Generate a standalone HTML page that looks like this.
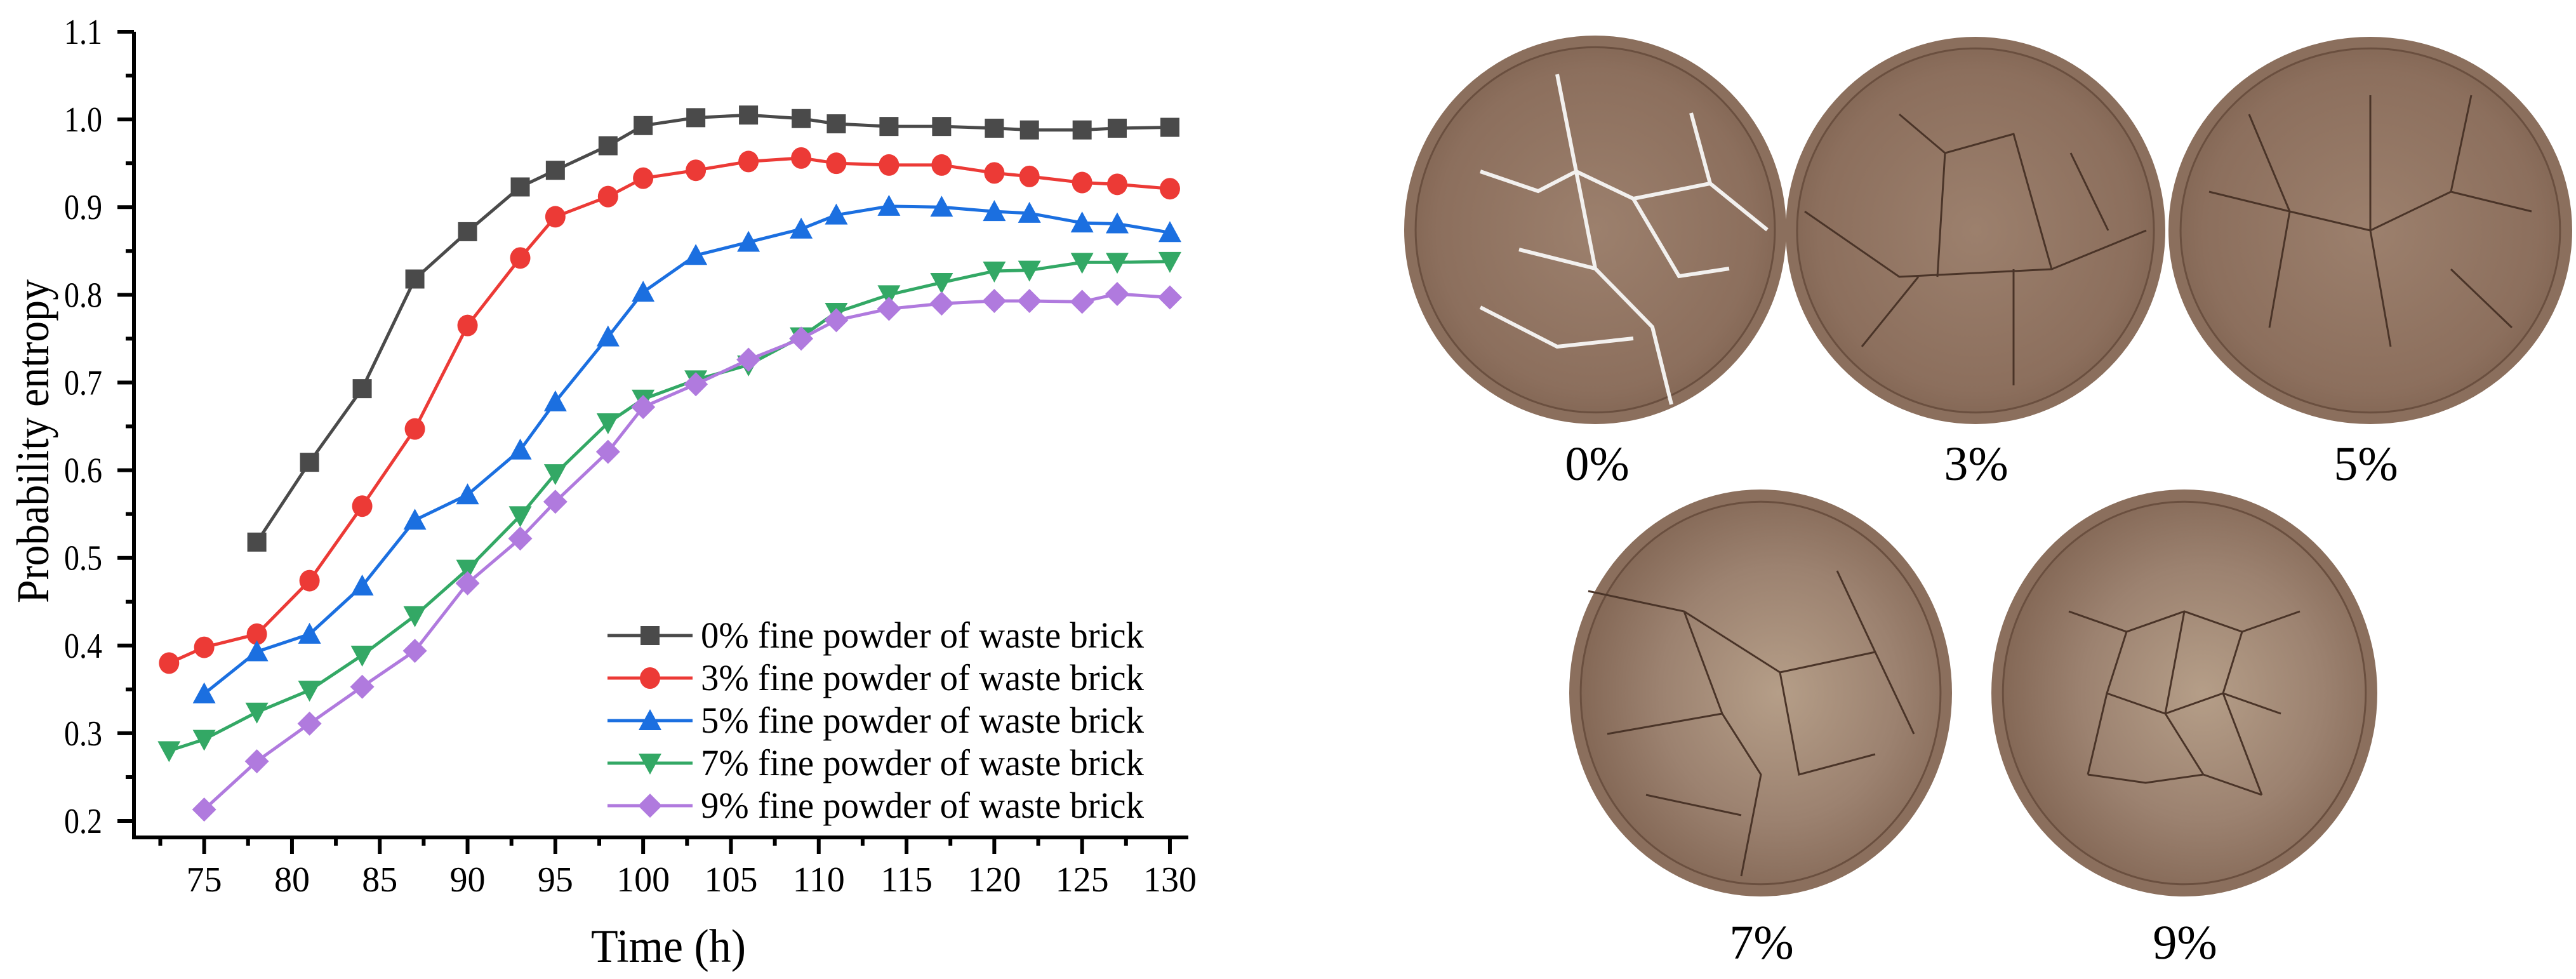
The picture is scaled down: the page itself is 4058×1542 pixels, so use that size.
<!DOCTYPE html>
<html><head><meta charset="utf-8">
<style>
html,body{margin:0;padding:0;background:#fff;}
svg{display:block;}
text{font-family:"Liberation Serif","Times New Roman",serif;fill:#000;}
</style></head>
<body>
<svg id="fig" xmlns="http://www.w3.org/2000/svg" width="4058" height="1542" viewBox="0 0 4058 1542">
<defs>
  <radialGradient id="bowlA" cx="50%" cy="50%" r="55%">
    <stop offset="0" stop-color="#9c806d"/>
    <stop offset="0.8" stop-color="#8c6f5d"/>
    <stop offset="1" stop-color="#806452"/>
  </radialGradient>
  <radialGradient id="bowlB" cx="55%" cy="50%" r="55%">
    <stop offset="0" stop-color="#b59e88"/>
    <stop offset="0.6" stop-color="#9c8270"/>
    <stop offset="1" stop-color="#846856"/>
  </radialGradient>
</defs>
<g id="chart"></g>
<g id="photos"></g>
</svg>
<script>
const xs0 = [78,81,84,87,90,93,95,98,100,103,106,109,111,114,117,120,122,125,127,130];
const ys0 = [0.518,0.609,0.693,0.818,0.872,0.923,0.942,0.970,0.993,1.002,1.005,1.001,0.995,0.992,0.992,0.990,0.988,0.988,0.990,0.991];
const xs3 = [73,75,78,81,84,87,90,93,95,98,100,103,106,109,111,114,117,120,122,125,127,130];
const ys3 = [0.380,0.398,0.413,0.474,0.559,0.647,0.765,0.842,0.889,0.912,0.933,0.942,0.952,0.956,0.950,0.948,0.948,0.939,0.935,0.928,0.926,0.921];
const xs5 = [75,78,81,84,87,90,93,95,98,100,103,106,109,111,114,117,120,122,125,127,130];
const ys5 = [0.345,0.393,0.413,0.468,0.543,0.572,0.623,0.678,0.752,0.803,0.845,0.860,0.875,0.891,0.901,0.900,0.895,0.893,0.882,0.881,0.871];
const xs7 = [73,75,78,81,84,87,90,93,95,98,100,103,106,109,111,114,117,120,122,125,127,130];
const ys7 = [0.280,0.293,0.324,0.349,0.389,0.434,0.487,0.548,0.596,0.654,0.681,0.703,0.720,0.752,0.780,0.800,0.814,0.827,0.828,0.837,0.837,0.838];
const xs9 = [75,78,81,84,87,90,93,95,98,100,103,106,109,111,114,117,120,122,125,127,130];
const ys9 = [0.213,0.268,0.311,0.353,0.394,0.471,0.522,0.564,0.621,0.672,0.698,0.726,0.750,0.771,0.784,0.790,0.793,0.793,0.792,0.801,0.797];
const seriesLabels = ["0% fine powder of waste brick","3% fine powder of waste brick","5% fine powder of waste brick","7% fine powder of waste brick","9% fine powder of waste brick"];
const xTickLabels = [75,80,85,90,95,100,105,110,115,120,125,130];
const yTickLabels = ["0.2","0.3","0.4","0.5","0.6","0.7","0.8","0.9","1.0","1.1"];
const photoLabels = ["0%","3%","5%","7%","9%"];

const NS="http://www.w3.org/2000/svg";
function mk(tag, attrs, parent){const e=document.createElementNS(NS,tag);for(const k in attrs)e.setAttribute(k,attrs[k]);parent.appendChild(e);return e;}
const chart=document.getElementById('chart');
const X0=211, X1=1872, Y0=1319, Y1=50;
const xmin=71, xmax=131.05, ymin=0.1812, ymax=1.1;
function sx(v){return X0+(v-xmin)/(xmax-xmin)*(X1-X0);}
function sy(v){return Y0-(v-ymin)/(ymax-ymin)*(Y0-Y1);}

let ax=mk('path',{d:`M${X0} ${Y1} L${X0} ${Y0} L${X1} ${Y0}`,fill:'none',stroke:'#000','stroke-width':6},chart);


for(let i=0;i<yTickLabels.length;i++){
  const v=parseFloat(yTickLabels[i]);const y=sy(v);
  const t=mk('line',{x1:X0-26,x2:X0,y1:y,y2:y,stroke:'#000','stroke-width':6},chart);
  
  
  const l=mk('text',{x:161,y:y+19,'text-anchor':'end','font-size':56,textLength:60,lengthAdjust:'spacingAndGlyphs'},chart);
  l.textContent=yTickLabels[i];
  
  
  if(i<yTickLabels.length-1){
    const ym=sy(v+0.05);
    const m=mk('line',{x1:X0-13,x2:X0,y1:ym,y2:ym,stroke:'#000','stroke-width':6},chart);
    
    
  }
}
for(let i=0;i<xTickLabels.length;i++){
  const v=xTickLabels[i];const x=sx(v);
  const t=mk('line',{x1:x,x2:x,y1:Y0,y2:Y0+26,stroke:'#000','stroke-width':6},chart);
  
  
  const l=mk('text',{x:x,y:1404,'text-anchor':'middle','font-size':56},chart);
  l.textContent=v;
  
  
  const xm=sx(v-2.5);
  const m=mk('line',{x1:xm,x2:xm,y1:Y0,y2:Y0+13,stroke:'#000','stroke-width':6},chart);
  
  
}
let xt=mk('text',{x:1053,y:1515,'text-anchor':'middle','font-size':74,textLength:244,lengthAdjust:'spacingAndGlyphs'},chart);
xt.textContent='Time (h)';


let yt=mk('text',{x:0,y:0,'text-anchor':'middle','font-size':72,textLength:510,lengthAdjust:'spacingAndGlyphs',transform:'translate(76,695) rotate(-90)'},chart);
yt.textContent='Probability entropy';



const colors=['#4a4a4a','#ec3a36','#1b6fe0','#33a865','#b07ade'];
const shapes=['square','circle','up','down','diamond'];
function marker(shape,x,y,c,parent){
  const r=15;
  if(shape==='square') return mk('rect',{x:x-r,y:y-r,width:2*r,height:2*r,fill:c},parent);
  if(shape==='circle') return mk('ellipse',{cx:x,cy:y,rx:r+1,ry:r+2,fill:c},parent);
  if(shape==='up') return mk('polygon',{points:`${x},${y-r-3} ${x+r+3},${y+r} ${x-r-3},${y+r}`,fill:c},parent);
  if(shape==='down') return mk('polygon',{points:`${x},${y+r+3} ${x+r+3},${y-r} ${x-r-3},${y-r}`,fill:c},parent);
  return mk('polygon',{points:`${x},${y-r-4} ${x+r+4},${y} ${x},${y+r+4} ${x-r-4},${y}`,fill:c},parent);
}
const allX=[xs0,xs3,xs5,xs7,xs9], allY=[ys0,ys3,ys5,ys7,ys9];
const names=['0pct','3pct','5pct','7pct','9pct'];
for(let s=0;s<5;s++){
  const g=mk('g',{},chart);
  
  
  const pts=allX[s].map((x,i)=>sx(x)+','+sy(allY[s][i])).join(' ');
  const pl=mk('polyline',{points:pts,fill:'none',stroke:colors[s],'stroke-width':5,'stroke-linejoin':'round'},g);
  
  
  for(let i=0;i<allX[s].length;i++){
    const m=marker(shapes[s],sx(allX[s][i]),sy(allY[s][i]),colors[s],g);
    
    
  }
}
const lg=mk('g',{},chart);


for(let s=0;s<5;s++){
  const cy=1001+s*67;
  const e=mk('g',{},lg);
  
  
  mk('line',{x1:957,x2:1091,y1:cy,y2:cy,stroke:colors[s],'stroke-width':5},e);
  marker(shapes[s],1024,cy,colors[s],e);
  const t=mk('text',{x:1104,y:cy+19,'font-size':58,textLength:698,lengthAdjust:'spacingAndGlyphs'},e);
  t.textContent=seriesLabels[s];
}

const photos=document.getElementById('photos');
const bowls=[[2212,56,2814,668,'bowlA'],[2813,58,3411,668,'bowlA'],[3416,58,4052,668,'bowlA'],[2472,771,3075,1412,'bowlB'],[3137,771,3745,1412,'bowlB']];
const labelPos=[[2516,729],[3113,729],[3727,729],[2775,1483],[3442,1483]];
const crackSets=[
 "M0.2,0.35 L0.35,0.4 L0.45,0.35 L0.6,0.42 L0.8,0.38 M0.45,0.35 L0.5,0.6 L0.65,0.75 L0.7,0.95 M0.6,0.42 L0.72,0.62 L0.85,0.6 M0.3,0.55 L0.5,0.6 M0.4,0.1 L0.45,0.35 M0.2,0.7 L0.4,0.8 L0.6,0.78 M0.75,0.2 L0.8,0.38 L0.95,0.5",
 "M0.05,0.45 L0.3,0.62 L0.7,0.6 L0.95,0.5 M0.4,0.62 L0.42,0.3 L0.6,0.25 L0.7,0.6 M0.3,0.2 L0.42,0.3 M0.2,0.8 L0.35,0.62 M0.6,0.9 L0.6,0.6 M0.75,0.3 L0.85,0.5",
 "M0.1,0.4 L0.3,0.45 L0.5,0.5 L0.7,0.4 L0.9,0.45 M0.5,0.5 L0.55,0.8 M0.5,0.15 L0.5,0.5 M0.3,0.45 L0.25,0.75 M0.7,0.4 L0.75,0.15 M0.2,0.2 L0.3,0.45 M0.7,0.6 L0.85,0.75",
 "M0.05,0.25 L0.3,0.3 L0.55,0.45 L0.8,0.4 M0.3,0.3 L0.4,0.55 L0.5,0.7 L0.45,0.95 M0.4,0.55 L0.1,0.6 M0.55,0.45 L0.6,0.7 L0.8,0.65 M0.2,0.75 L0.45,0.8 M0.7,0.2 L0.8,0.4 L0.9,0.6",
 "M0.2,0.3 L0.35,0.35 L0.5,0.3 L0.65,0.35 L0.8,0.3 M0.3,0.5 L0.45,0.55 L0.6,0.5 L0.75,0.55 M0.25,0.7 L0.4,0.72 L0.55,0.7 L0.7,0.75 M0.35,0.35 L0.3,0.5 L0.25,0.7 M0.5,0.3 L0.45,0.55 L0.55,0.7 M0.65,0.35 L0.6,0.5 L0.7,0.75"
];
for(let i=0;i<5;i++){
  const [x0,y0,x1,y1,grad]=bowls[i];
  const cx=(x0+x1)/2, cy=(y0+y1)/2, rx=(x1-x0)/2, ry=(y1-y0)/2;
  const g=mk('g',{},photos);
  
  
  mk('ellipse',{cx:cx,cy:cy,rx:rx,ry:ry,fill:'#8b6f5d'},g);
  mk('ellipse',{cx:cx,cy:cy,rx:rx*0.94,ry:ry*0.94,fill:'url(#'+grad+')',stroke:'#6a4f3f','stroke-width':3},g);
  const d=crackSets[i].replace(/(\d\.\d+),(\d\.\d+)/g,(m,a,b)=>(x0+parseFloat(a)*(x1-x0)).toFixed(0)+','+(y0+parseFloat(b)*(y1-y0)).toFixed(0));
  mk('path',{d:d,fill:'none',stroke:i===0?'#f2f0ee':'#4a3428','stroke-width':i===0?6:3},g);
  const t=mk('text',{x:labelPos[i][0],y:labelPos[i][1]+27,'text-anchor':'middle','font-size':76},photos);
  t.textContent=photoLabels[i];
  
  
}
</script>
</body></html>
